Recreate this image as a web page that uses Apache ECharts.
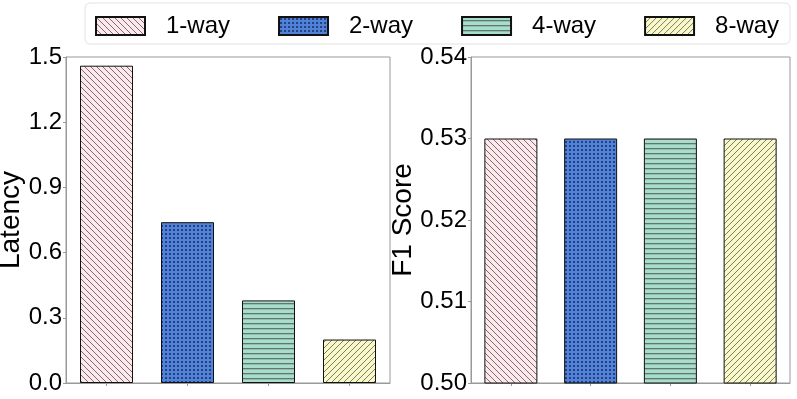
<!DOCTYPE html>
<html><head><meta charset="utf-8">
<script src="https://cdn.jsdelivr.net/npm/echarts@6/dist/echarts.min.js"></script>
<style>html,body{margin:0;padding:0;background:#fff}#c{width:797px;height:399px}</style>
</head><body><div id="c"></div>
<script>
const categories = ['1-way', '2-way', '4-way', '8-way'];
const latency = [1.46, 0.74, 0.38, 0.20];
const f1 = [0.53, 0.53, 0.53, 0.53];
const latencyTicks = { min: 0, max: 1.5, interval: 0.3 };
const f1Ticks = { min: 0.50, max: 0.54, interval: 0.01 };

function tile(w, h, bg, draw) {
  const c = document.createElement('canvas');
  c.width = w; c.height = h;
  const g = c.getContext('2d');
  g.fillStyle = bg; g.fillRect(0, 0, w, h);
  draw(g, w, h);
  return { image: c, repeat: 'repeat' };
}
function diag(dir, bg, fg, s) {
  return tile(s, s, bg, (g, w, h) => {
    g.strokeStyle = fg; g.lineWidth = 1;
    for (let o = -s; o <= s; o += s) {
      g.beginPath();
      if (dir > 0) { g.moveTo(o, h); g.lineTo(o + w, 0); }
      else { g.moveTo(o, 0); g.lineTo(o + w, h); }
      g.stroke();
    }
  });
}
const patterns = [
  diag(-1, '#fde9ec', '#7d6e74', 6),
  tile(4, 4, '#4f82d8', (g) => { g.fillStyle = '#25407a'; g.fillRect(1, 1, 2, 2); }),
  tile(5, 5, '#a8dccb', (g) => { g.fillStyle = '#5e776f'; g.fillRect(0, 3, 5, 1.3); }),
  diag(1, '#f9f8c9', '#7e7e66', 6)
];

const chart = echarts.init(document.getElementById('c'), null, { renderer: 'canvas' });
const font = 'Liberation Sans, Arial, sans-serif';
function yAxis(gi, t, dec, name) {
  return {
    type: 'value', gridIndex: gi, min: t.min, max: t.max, interval: t.interval,
    name: name, nameLocation: 'middle', nameGap: gi === 0 ? 41 : 54, nameRotate: 90,
    nameMoveOverlap: false,
    nameTextStyle: { fontFamily: font, fontSize: 28, color: '#000' },
    axisLine: { show: true, lineStyle: { color: '#999', width: 1 } },
    axisTick: { show: true, inside: false, length: 3, lineStyle: { color: '#999' } },
    axisLabel: { fontFamily: font, fontSize: 24, color: '#000', margin: 4,
      formatter: v => v.toFixed(dec) },
    splitLine: { show: false }
  };
}
function xAxis(gi) {
  return {
    type: 'category', gridIndex: gi, data: categories,
    axisLine: { show: true, lineStyle: { color: '#999', width: 1 } },
    axisTick: { show: true, alignWithLabel: true, length: 3, lineStyle: { color: '#999' } },
    axisLabel: { show: false }
  };
}
const series = [];
categories.forEach((name, i) => {
  const d0 = categories.map((c, j) => j === i ? latency[j] : '-');
  const d1 = categories.map((c, j) => j === i ? f1[j] : '-');
  const style = { color: patterns[i], borderColor: '#111', borderWidth: 1 };
  series.push({ name, type: 'bar', stack: 'g0', xAxisIndex: 0, yAxisIndex: 0, data: d0, barWidth: 53, itemStyle: style });
  series.push({ name, type: 'bar', stack: 'g1', xAxisIndex: 1, yAxisIndex: 1, data: d1, barWidth: 53, itemStyle: style });
});

chart.setOption({
  animation: false,
  backgroundColor: '#fff',
  legend: {
    data: categories.map(n => ({ name: n, icon: 'rect' })),
    left: 85, top: 3, padding: [11, 11, 6, 10],
    itemWidth: 49, itemHeight: 18, itemGap: 48,
    borderColor: '#e2e2e2', borderWidth: 1, borderRadius: 5,
    textStyle: { fontFamily: font, fontSize: 24, color: '#000', padding: [0, 0, 0, 16] }
  },
  grid: [
    { left: 66, top: 57, width: 324, height: 326, show: true, borderColor: '#999', borderWidth: 1, outerBoundsMode: 'none', containLabel: false },
    { left: 471, top: 57, width: 319, height: 326, show: true, borderColor: '#999', borderWidth: 1, outerBoundsMode: 'none', containLabel: false }
  ],
  xAxis: [xAxis(0), xAxis(1)],
  yAxis: [yAxis(0, latencyTicks, 1, 'Latency'), yAxis(1, f1Ticks, 2, 'F1 Score')],
  series
});
</script></body></html>
